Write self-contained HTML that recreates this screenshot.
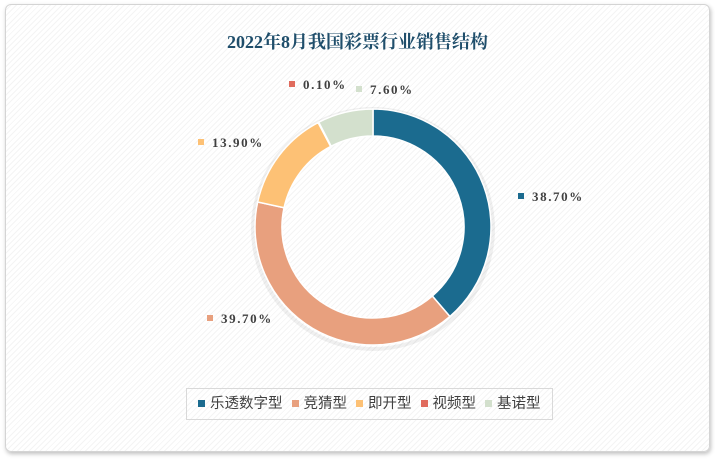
<!DOCTYPE html>
<html><head><meta charset="utf-8"><style>
html,body{margin:0;padding:0;width:715px;height:459px;overflow:hidden;background:#fff;font-family:"Liberation Serif","Noto Serif CJK SC",serif;}
.card{position:absolute;left:5px;top:4px;width:703px;height:446px;border:1px solid #d4d4d4;border-radius:6px;box-shadow:1px 2px 4px rgba(0,0,0,.25);
background:repeating-linear-gradient(135deg,#fff 0,#fff 3px,#f4f4f4 3px,#f4f4f4 4px);}
.t{position:absolute;left:0;width:715px;top:28px;text-align:center;font-size:18px;font-weight:bold;color:#1f4e6b;font-family:"Liberation Serif","Noto Serif CJK SC",serif;}
.lb{position:absolute;font-size:13px;font-weight:bold;color:#404040;letter-spacing:1.6px;}
.lb i{display:inline-block;width:6px;height:6px;margin-right:8px;vertical-align:2px;}
.lg{position:absolute;left:186px;top:388px;width:367px;height:32px;border:1px solid #d9d9d9;box-sizing:border-box;font-family:"Liberation Sans","Noto Sans CJK SC",sans-serif;font-size:14.5px;color:#404040;line-height:30px;padding-left:11px;white-space:nowrap;}
.lg i{display:inline-block;width:7px;height:7px;margin-right:5px;vertical-align:1px;}
.lg span{margin-right:9px;}
</style></head><body>
<div class="card"></div>
<div class="t">2022年8月我国彩票行业销售结构</div>
<svg id="s" width="715" height="459" style="position:absolute;left:0;top:0"></svg>
<div class="lb" style="left:289px;top:77px"><i style="background:#e06b5d"></i>0.10%</div>
<div class="lb" style="left:356px;top:82px"><i style="background:#d3e0cd"></i>7.60%</div>
<div class="lb" style="left:198px;top:135px"><i style="background:#fdc175"></i>13.90%</div>
<div class="lb" style="left:518px;top:189px"><i style="background:#1b6b8f"></i>38.70%</div>
<div class="lb" style="left:207px;top:311px"><i style="background:#e8a07e"></i>39.70%</div>
<div class="lg"><span><i style="background:#1b6b8f"></i>乐透数字型</span><span><i style="background:#e8a07e"></i>竞猜型</span><span><i style="background:#fdc175"></i>即开型</span><span><i style="background:#e06b5d"></i>视频型</span><span><i style="background:#d3e0cd"></i>基诺型</span></div>
<script>
var cx=373,cy=227,R=118,r=91,s=document.getElementById('s');
var d=[[38.7,'#1b6b8f'],[39.7,'#e8a07e'],[13.9,'#fdc175'],[0.1,'#e06b5d'],[7.6,'#d3e0cd']];
var h='<circle cx="'+cx+'" cy="'+(cy+2)+'" r="'+(R+2)+'" fill="none" stroke="rgba(0,0,0,0.06)" stroke-width="4"/>';
var a=0;function p(rad,ang){var t=(ang-90)*Math.PI/180;return (cx+rad*Math.cos(t)).toFixed(2)+' '+(cy+rad*Math.sin(t)).toFixed(2);}
d.forEach(function(x){var b=a+x[0]*3.6,l=(b-a)>180?1:0;
h+='<path d="M'+p(R,a)+' A'+R+' '+R+' 0 '+l+' 1 '+p(R,b)+' L'+p(r,b)+' A'+r+' '+r+' 0 '+l+' 0 '+p(r,a)+'Z" fill="'+x[1]+'" stroke="#fff" stroke-width="1.5"/>';a=b;});
s.innerHTML=h;
</script>
</body></html>
